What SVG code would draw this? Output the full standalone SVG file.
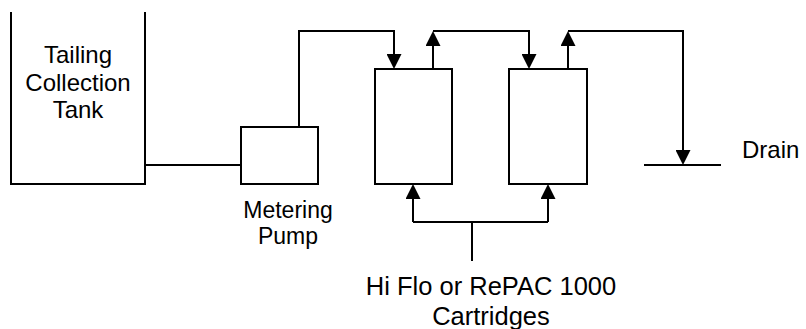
<svg xmlns="http://www.w3.org/2000/svg" width="806" height="329" viewBox="0 0 806 329">
<style>
.ln{fill:none;stroke:#000;stroke-width:2;stroke-linecap:butt;stroke-linejoin:miter}
.bx{fill:#fff;stroke:#000;stroke-width:2}
.tx{font-family:"Liberation Sans",Arial,sans-serif;font-size:24px;fill:#000;text-anchor:middle}
.ar{marker-end:url(#ah)}
</style>
<defs>
<marker id="ah" markerUnits="userSpaceOnUse" viewBox="0 0 15 15" refX="13" refY="7.5" markerWidth="15" markerHeight="15" orient="auto">
<path d="M0,0 L15,7.5 L0,15 Z" fill="#000"/>
</marker>
</defs>
<rect width="806" height="329" fill="#fff"/>
<g id="connectors">
<path class="ln" d="M145,165 H241"/>
<path class="ln ar" d="M299,127 V31 H394 V67"/>
<path class="ln ar" d="M433,69 V33"/>
<path class="ln ar" d="M433,31 H529 V67"/>
<path class="ln ar" d="M568,69 V33"/>
<path class="ln ar" d="M568,31 H683 V163"/>
<path class="ln" d="M472,261 V222"/>
<path class="ln" d="M413,222 H548"/>
<path class="ln ar" d="M413,222 V186"/>
<path class="ln ar" d="M548,222 V186"/>
</g>
<g id="tank">
<path class="ln" d="M11,12 V184 H145 V12"/>
<text class="tx" x="78" y="63">Tailing</text>
<text class="tx" x="78" y="91">Collection</text>
<text class="tx" x="78" y="118">Tank</text>
</g>
<g id="pump">
<rect class="bx" x="241" y="127" width="77" height="57"/>
<text class="tx" x="288" y="218" style="font-size:23px">Metering</text>
<text class="tx" x="288" y="244" style="font-size:23px">Pump</text>
</g>
<g id="cartridge1">
<rect class="bx" x="375" y="69" width="77" height="115"/>
</g>
<g id="cartridge2">
<rect class="bx" x="509" y="69" width="78" height="115"/>
</g>
<g id="cartridges-label">
<text class="tx" x="491" y="295" style="font-size:25.5px">Hi Flo or RePAC 1000</text>
<text class="tx" x="491" y="325" style="font-size:25.5px">Cartridges</text>
</g>
<g id="drain">
<path class="ln" d="M644,165 H721"/>
<text class="tx" x="742" y="158" style="text-anchor:start">Drain</text>
</g>
</svg>
